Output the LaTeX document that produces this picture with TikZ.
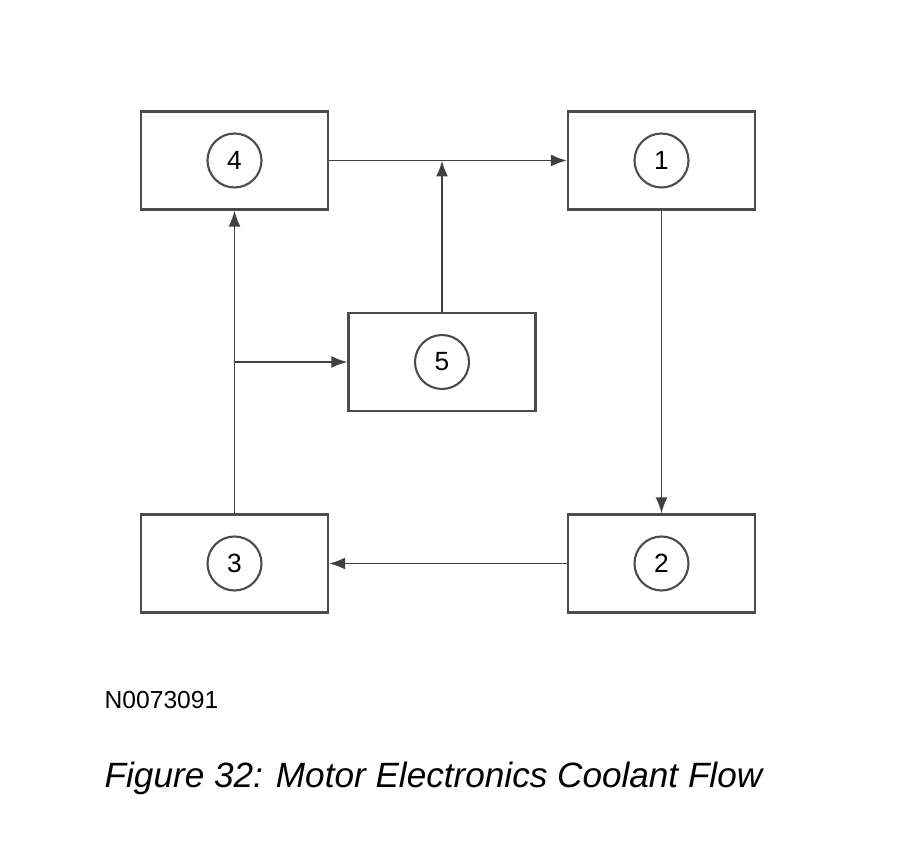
\documentclass[tikz,border=0pt]{standalone}
\usepackage{fontspec}
\setmainfont{Liberation Sans}
\usetikzlibrary{arrows.meta}
\tikzset{
  unitbox/.style={draw=black!70, line width=0.6pt, minimum width=1.87cm, minimum height=0.98cm, inner sep=0pt},
  numcirc/.style={draw=black!70, line width=0.6pt, circle, minimum size=0.54cm, inner sep=0pt, font=\fontsize{7.5}{9}\selectfont},
  flow/.style={draw=black!75, line width=0.55pt, -{Latex[length=1.6mm,width=1.2mm]}}
}
\begin{document}
\begin{tikzpicture}
\useasboundingbox (0,0) rectangle (9,-8.47);
\node[unitbox] (b4) at (2.345,-1.605) {};
\node[unitbox] (b1) at (6.615,-1.605) {};
\node[unitbox] (b5) at (4.42,-3.62) {};
\node[unitbox] (b3) at (2.345,-5.635) {};
\node[unitbox] (b2) at (6.615,-5.635) {};
\node[numcirc] (c4) at (b4) {4};
\node[numcirc] (c1) at (b1) {1};
\node[numcirc] (c5) at (b5) {5};
\node[numcirc] (c3) at (b3) {3};
\node[numcirc] (c2) at (b2) {2};
\coordinate (join) at (b5.north |- b4.east);
\coordinate (split) at (b3.north |- b5.west);
\draw[flow] (b4.east) -- (b1.west);
\draw[flow] (b5.north) -- (join);
\draw[flow] (b1.south) -- (b2.north);
\draw[flow] (b2.west) -- (b3.east);
\draw[flow] (b3.north) -- (b4.south);
\draw[flow] (split) -- (b5.west);
\node[anchor=west, inner sep=0pt, font=\fontsize{7}{8}\selectfont] (code) at (1.04,-7.00) {N0073091};
\node[anchor=west, inner sep=0pt, font=\fontsize{10}{12}\itshape] (caption) at (1.04,-7.78) {Figure 32: Motor Electronics Coolant Flow};
\end{tikzpicture}
\end{document}
